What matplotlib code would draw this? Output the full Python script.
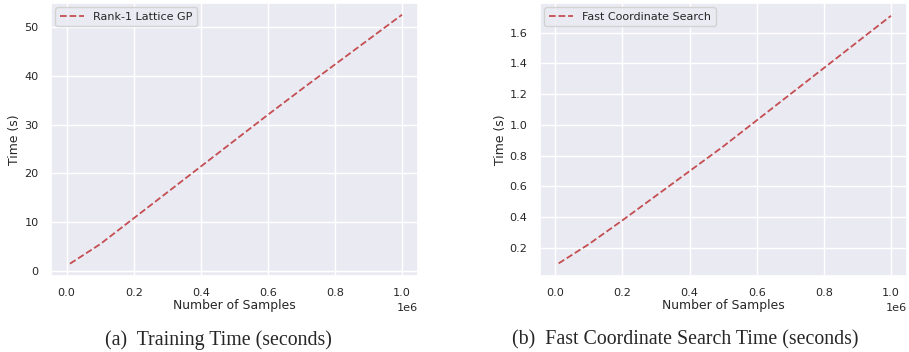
import numpy as np
import matplotlib
matplotlib.use("Agg")
import matplotlib.pyplot as plt
import seaborn as sns

sns.set_theme(style="darkgrid")

n_samples = [1e4, 1e5, 2e5, 3e5, 4e5, 5e5, 6e5, 7e5, 8e5, 9e5, 1e6]
train_time = [1.5, 5.5, 10.8, 16.1, 21.4, 26.7, 32.0, 37.2, 42.3, 47.4, 52.5]
search_time = [0.10, 0.225, 0.38, 0.54, 0.70, 0.86, 1.03, 1.20, 1.37, 1.54, 1.71]

labels = ["Rank-1 Lattice GP", "Fast Coordinate Search"]
captions = ["(a)  Training Time (seconds)", "(b)  Fast Coordinate Search Time (seconds)"]
caption_x = [218 / 909, 685 / 909]

fig = plt.figure(figsize=(9.09, 3.52), dpi=100)
ax1 = fig.add_axes([51 / 909, 1 - 276 / 352, 367 / 909, 273 / 352])
ax2 = fig.add_axes([540 / 909, 1 - 276 / 352, 367 / 909, 273 / 352])

for ax, y, lab, cap, cx in zip([ax1, ax2], [train_time, search_time], labels, captions, caption_x):
    ax.plot(n_samples, y, linestyle="--", color="r", linewidth=1.3, label=lab)
    ax.set_xlabel("Number of Samples", fontsize=8.9, labelpad=0)
    ax.set_ylabel("Time (s)", fontsize=8.9, labelpad=2)
    ax.tick_params(labelsize=8.1, pad=3)
    ax.xaxis.get_offset_text().set_fontsize(8.1)
    ax.legend(loc="upper left", fontsize=8.0, handlelength=2.2, borderaxespad=0.4)
    ax.set_xticks([0, 2e5, 4e5, 6e5, 8e5, 1e6])
    fig.text(cx, 1 - 340 / 352, cap, ha="center", va="center",
             fontsize=14.3, family="Liberation Serif")

ax1.set_yticks([0, 10, 20, 30, 40, 50])
ax1.set_xlim(-0.0466e6, 1.0477e6)
ax1.set_ylim(-1.02, 54.9)
ax2.set_yticks([0.2, 0.4, 0.6, 0.8, 1.0, 1.2, 1.4, 1.6])
ax2.set_xlim(-0.0455e6, 1.0477e6)
ax2.set_ylim(0.018, 1.793)

fig.savefig("out.png", dpi=100)
